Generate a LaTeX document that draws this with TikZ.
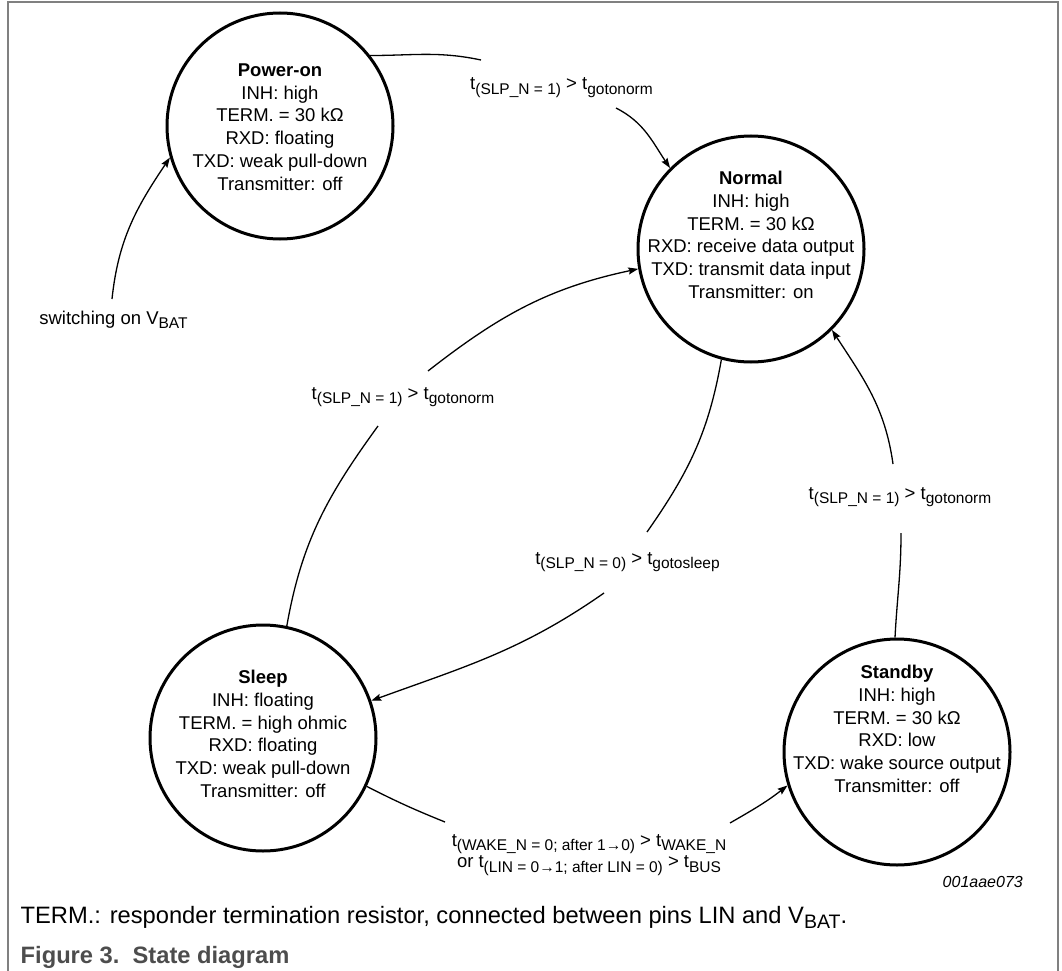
\documentclass[tikz,border=0pt]{standalone}
\usepackage{fontspec}
\setmainfont{Liberation Sans}
\usetikzlibrary{arrows.meta}
\definecolor{framegray}{RGB}{128,128,128}
\definecolor{capgray}{RGB}{77,77,77}
\newcommand{\lsub}[1]{\raisebox{-4.5pt}{\fontsize{15.5}{16}\selectfont #1}}
\newcommand{\csub}[1]{\raisebox{-5pt}{\fontsize{19.5}{20}\selectfont #1}}
\lineskiplimit=-30pt
\begin{document}
\begin{tikzpicture}[x=1pt,y=1pt,
  state/.style={circle, draw, line width=3pt, minimum size=226pt, inner sep=0pt},
  stxt/.style={align=center, font=\fontsize{18.5}{22.7}\selectfont, inner sep=0pt},
  lbl/.style={font=\fontsize{18.5}{22}\selectfont, inner sep=0pt, anchor=base},
  lbltwo/.style={align=center, font=\fontsize{18.5}{21.5}\selectfont, inner sep=0pt},
  conn/.style={line width=1.3pt},
  arr/.style={conn, -{Stealth[length=10pt,width=7pt,inset=1.5pt]}},
  boxframe/.style={draw=framegray, line width=2pt},
]
\useasboundingbox (0,0) rectangle (1062,-971);
\draw[boxframe] (8,-971) -- (8,-2) -- (1058,-2) -- (1058,-971);

% states
\node[state] (poweron) at (280,-126) {};
\node[state] (normal) at (751,-249) {};
\node[state] (sleep) at (263,-738) {};
\node[state] (standby) at (897,-752) {};

\node[stxt] (powerontxt) at (280,-127) {\textbf{Power-on}\\INH: high\\TERM. = 30 kΩ\\RXD: floating\\TXD: weak pull-down\\Transmitter: off};
\node[stxt] (normaltxt) at (751,-235) {\textbf{Normal}\\INH: high\\TERM. = 30 kΩ\\RXD: receive data output\\TXD: transmit data input\\Transmitter: on};
\node[stxt] (sleeptxt) at (263,-734) {\textbf{Sleep}\\INH: floating\\TERM. = high ohmic\\RXD: floating\\TXD: weak pull-down\\Transmitter: off};
\node[stxt] (standbytxt) at (897,-729) {\textbf{Standby}\\INH: high\\TERM. = 30 kΩ\\RXD: low\\TXD: wake source output\\Transmitter: off};

% labels
\node[lbl] (swlbl) at (113.5,-324) {switching on V\lsub{BAT}};
\node[lbl] (l1) at (561.5,-90) {t\lsub{(SLP\_N = 1)} > t\lsub{gotonorm}};
\node[lbl] (l2) at (403,-399) {t\lsub{(SLP\_N = 1)} > t\lsub{gotonorm}};
\node[lbl] (l3) at (627.5,-564) {t\lsub{(SLP\_N = 0)} > t\lsub{gotosleep}};
\node[lbl] (l4) at (900,-499) {t\lsub{(SLP\_N = 1)} > t\lsub{gotonorm}};
\node[lbltwo] (l5) at (589,-855) {t\lsub{(WAKE\_N = 0; after 1→0)} > t\lsub{WAKE\_N}\\or t\lsub{(LIN = 0→1; after LIN = 0)} > t\lsub{BUS}};

\node[font=\fontsize{16}{18}\selectfont\itshape, anchor=base east, inner sep=0pt] (code) at (1023,-887) {001aae073};
\node[font=\fontsize{23.7}{26}\selectfont, anchor=base west, inner sep=0pt] (term) at (20.5,-923) {TERM.: responder termination resistor, connected between pins LIN and V\csub{BAT}.};
\node[font=\fontsize{23.7}{26}\selectfont\bfseries, text=capgray, anchor=base west, inner sep=0pt] (fig) at (20.5,-963) {Figure 3.\ \ State diagram};

% connector ends
\coordinate (s1) at (112,-299);
\coordinate (a1) at (481,-60);
\coordinate (a2) at (616,-108);
\coordinate (b1) at (378,-426);
\coordinate (b2) at (428,-371);
\coordinate (c1) at (647,-532);
\coordinate (c2) at (604,-593);
\coordinate (d1) at (901,-533);
\coordinate (d2) at (893,-464);
\coordinate (e1) at (445,-822);
\coordinate (e2) at (730,-823);

% connectors
\draw[arr] (s1) to[out=84,in=236] (poweron.196);
\draw[conn] (poweron.38) to[out=0,in=168] (a1);
\draw[arr] (a2) to[out=-27,in=124] (normal.135);
\draw[conn] (sleep.78) to[out=80,in=234] (b1);
\draw[arr] (b2) to[out=38,in=192] (normal.190);
\draw[conn] (normal.255) to[out=260,in=55] (c1);
\draw[arr] (c2) to[out=215,in=20] (sleep.19);
\draw[conn] (standby.91) to[out=87,in=270] (d1);
\draw[arr] (d2) to[out=98,in=303] (normal.-45);
\draw[conn] (sleep.-25) to[out=-27,in=158] (e1);
\draw[arr] (e2) to[out=30,in=218] (standby.197);
\end{tikzpicture}
\end{document}
